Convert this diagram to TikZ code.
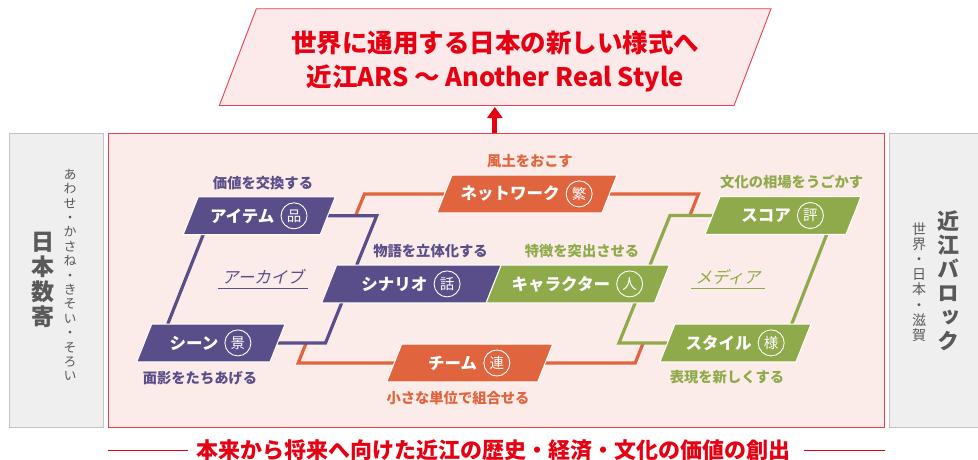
\documentclass[tikz,border=0pt]{standalone}
\usepackage{fontspec}
\setmainfont{Noto Sans CJK JP}
\newfontfamily\jpv[RawFeature=+vert]{Noto Sans CJK JP}
\newfontfamily\jpsl[FakeSlant=0.22]{Noto Sans CJK JP}
\usetikzlibrary{positioning,arrows.meta}
\definecolor{purp}{HTML}{5A4E8A}
\definecolor{oran}{HTML}{E0653E}
\definecolor{gren}{HTML}{8FAA4B}
\definecolor{pinkbg}{HTML}{FCECE9}
\definecolor{toppink}{HTML}{FCE9E9}
\definecolor{redc}{HTML}{E60012}
\definecolor{redl}{HTML}{E8404F}
\definecolor{grayfill}{HTML}{EFEFEF}
\definecolor{grayline}{HTML}{C4C4C4}
\definecolor{graytext}{HTML}{595959}
\tikzset{
  anchorbox/.style={inner sep=0pt, outer sep=0pt, minimum height=37.7pt},
  pfill/.style={draw=white, line width=1pt},
  boxtext/.style={text=white, inner sep=0pt, font=\bfseries\fontsize{16.5}{16.5}\selectfont},
  maru/.style={circle, draw=white, line width=0.9pt, minimum size=26pt, inner sep=0pt,
    text=white, font=\fontsize{14.5}{14.5}\selectfont},
  lab/.style={inner sep=0pt, font=\bfseries\fontsize{14.3}{14.3}\selectfont},
  slab/.style={inner xsep=4pt, inner ysep=3.5pt, font=\jpsl\fontsize{16.5}{16.5}\selectfont},
  conn/.style={line width=3.2pt},
  graybox/.style={draw=grayline, fill=grayfill, line width=0.8pt, inner sep=0pt, anchor=north west},
  vtext/.style={align=center, text=graytext, inner sep=0pt},
}
% invisible anchor node for a slanted box: name, cx, cy, width
\newcommand\placebox[4]{%
  \node[anchorbox, minimum width=#4] (#1) at (#2,#3) {};
}
% paint the slanted box: name, colour, text, kanji
\newcommand\paintbox[4]{%
  \filldraw[pfill, fill=#2] ([xshift=7.5pt]#1.north west) -- ([xshift=7.5pt]#1.north east)
    -- ([xshift=-7.5pt]#1.south east) -- ([xshift=-7.5pt]#1.south west) -- cycle;
  \node[boxtext] (#1t) at ([xshift=-17pt]#1.center) {#3};
  \node[maru, right=6pt of #1t] (#1c) {#4};
}
\begin{document}
\begin{tikzpicture}[x=1pt,y=-1pt]
\useasboundingbox (0,0) rectangle (978,459);
\fill[white] (0,0) rectangle (978,459);

% background panels
\node[graybox, minimum width=94pt, minimum height=294pt] (lpanel) at (9,133) {};
\node[graybox, minimum width=95pt, minimum height=294pt] (rpanel) at (889,133) {};
\node[draw=redl, fill=pinkbg, line width=0.9pt, inner sep=0pt, anchor=north west,
  minimum width=776pt, minimum height=294pt] (mainbox) at (108,133) {};

% top banner
\node[inner sep=0pt, outer sep=0pt, minimum width=514.7pt, minimum height=96.8pt] (top) at (495.2,57.1) {};
\filldraw[draw=redl, fill=toppink, line width=0.9pt]
  ([xshift=18.5pt]top.north west) -- ([xshift=18.5pt]top.north east)
  -- ([xshift=-18.5pt]top.south east) -- ([xshift=-18.5pt]top.south west) -- cycle;
\node[align=center, text=redc, inner sep=0pt, font=\bfseries\fontsize{25.5}{34}\selectfont]
  (title) at (495.2,61) {世界に通用する日本の新しい様式へ\\近江ARS ～ Another Real Style};
\draw[line width=5pt, redc, -{Triangle[width=15pt,length=11pt]}]
  ([xshift=-1.6pt]mainbox.north) -- ([xshift=-1.6pt,yshift=-1.5pt]mainbox.north |- top.south);

% side texts
\node[vtext, font=\jpv\bfseries\fontsize{23}{25}\selectfont] (nihon) at (43,280) {日\\本\\数\\寄};
\node[vtext, font=\jpv\fontsize{13}{14.4}\selectfont] (awase) at (70,275)
  {あ\\わ\\せ\\・\\か\\さ\\ね\\・\\き\\そ\\い\\・\\そ\\ろ\\い};
\node[vtext, font=\jpv\bfseries\fontsize{22}{24}\selectfont] (baroque) at (948,281) {近\\江\\バ\\ロ\\ッ\\ク};
\node[vtext, font=\jpv\fontsize{14}{15.2}\selectfont] (sekai) at (919,282) {世\\界\\・\\日\\本\\・\\滋\\賀};

% bottom statement
\node[text=redc, inner sep=0pt, font=\bfseries\fontsize{22}{22}\selectfont] (bottom) at (493.5,450)
  {本来から将来へ向けた近江の歴史・経済・文化の価値の創出};
\draw[redc, line width=0.9pt] ([xshift=-8pt]bottom.west) -- (mainbox.west |- bottom.west);
\draw[redc, line width=0.9pt] ([xshift=13pt]bottom.east) -- (mainbox.east |- bottom.east);

% box positions
\placebox{item}{259.2}{215.8}{137}
\placebox{scen}{411.45}{283.9}{164.5}
\placebox{scene}{210.9}{342.9}{133.3}
\placebox{net}{527}{193.9}{165}
\placebox{team}{469.7}{363}{151}
\placebox{score}{783}{215.5}{141}
\placebox{char}{577.85}{283.9}{168.3}
\placebox{style}{735.5}{342.9}{136}

% orange loop (lowest)
\draw[conn, oran] (net.west) -- ++(-80,0) -- ++(-9,22);
\draw[conn, oran] (net.east) -- ++(89,0) -- ++(-9,22.5);
\draw[conn, oran] (team.west) -- ++(-96,0) -- ++(8,-20);
\draw[conn, oran] (team.east) -- ++(90,0) -- ++(8,-20);
% purple loop
\draw[conn, purp] (item.east) -- ++(49,0) -- ([xshift=27.5pt]scen.north west);
\draw[conn, purp] ([xshift=12.5pt]item.south west) -- ([xshift=23.5pt]scene.north west);
\draw[conn, purp] ([xshift=12.5pt]scen.south west) -- ([xshift=48pt]scene.east) -- (scene.east);
% green loop
\draw[conn, gren] (score.west) -- ++(-42.5,0) -- ([xshift=156.3pt]char.north west);
\draw[conn, gren] ([xshift=114.2pt]score.south west) -- ([xshift=124.2pt]style.north west);
\draw[conn, gren] ([xshift=141.5pt]char.south west) -- ([xshift=-48.5pt]style.west) -- (style.west);

% boxes
\paintbox{item}{purp}{アイテム}{品}
\paintbox{scen}{purp}{シナリオ}{話}
\paintbox{scene}{purp}{シーン}{景}
\paintbox{net}{oran}{ネットワーク}{繁}
\paintbox{team}{oran}{チーム}{連}
\paintbox{score}{gren}{スコア}{評}
\paintbox{char}{gren}{キャラクター}{人}
\paintbox{style}{gren}{スタイル}{様}

% labels
\node[lab, text=purp] (litem) at (263,182.7) {価値を交換する};
\node[lab, text=purp] (lscen) at (430.5,250.7) {物語を立体化する};
\node[lab, text=purp] (lscene) at (200,378) {面影をたちあげる};
\node[lab, text=oran] (lnet) at (530,160.7) {風土をおこす};
\node[lab, text=oran] (lteam) at (458,398) {小さな単位で組合せる};
\node[lab, text=gren] (lscore) at (791.7,181.7) {文化の相場をうごかす};
\node[lab, text=gren] (lchar) at (582,251) {特徴を突出させる};
\node[lab, text=gren] (lstyle) at (727,377.3) {表現を新しくする};

% italic loop names with underline
\node[slab, text=purp] (archive) at (263,277) {アーカイブ};
\draw[purp, line width=0.8pt] (archive.south west) -- (archive.south east);
\node[slab, text=gren] (media) at (728,277) {メディア};
\draw[gren, line width=0.8pt] (media.south west) -- (media.south east);
\end{tikzpicture}
\end{document}
